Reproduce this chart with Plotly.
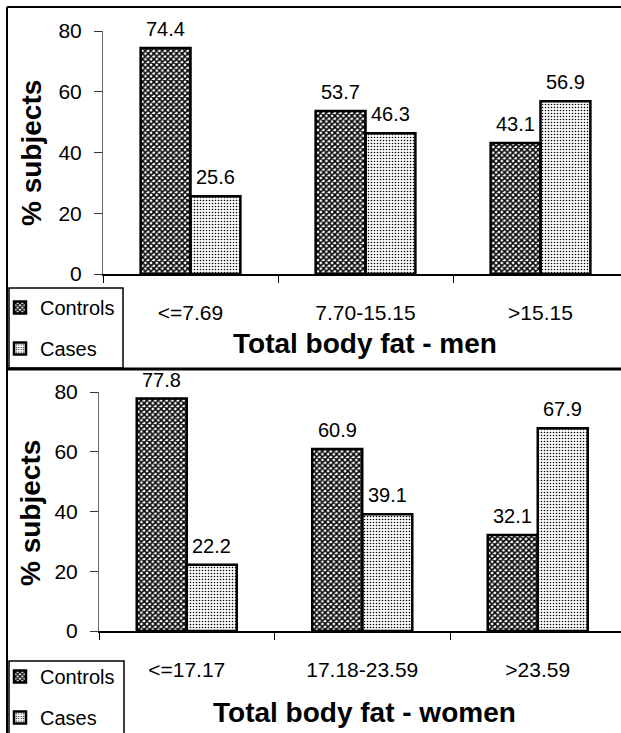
import plotly.graph_objects as go

# Percentage of subjects by total body fat tertile
men_groups = ["<=7.69", "7.70-15.15", ">15.15"]
men_controls = [74.4, 53.7, 43.1]
men_cases = [25.6, 46.3, 56.9]

women_groups = ["<=17.17", "17.18-23.59", ">23.59"]
women_controls = [77.8, 60.9, 32.1]
women_cases = [22.2, 39.1, 67.9]

y_ticks = [0, 20, 40, 60, 80]

W, H = 621, 733
FONT = "Liberation Sans, Arial, sans-serif"
BARGAP = 0.43


def px(x):
    return x / W


def py(y):
    return 1 - y / H


controls_style = dict(color="white", line=dict(color="black", width=2.5),
                      pattern=dict(shape="x", size=4, solidity=0.62,
                                   fgcolor="black", fillmode="replace"))
cases_style = dict(color="white", line=dict(color="black", width=2.5),
                   pattern=dict(shape=".", size=3, solidity=0.24,
                                fgcolor="black", fillmode="replace"))

fig = go.Figure()

panels = [
    ("x", "y", "legend", men_groups, men_controls, men_cases, "1"),
    ("x2", "y2", "legend2", women_groups, women_controls, women_cases, "2"),
]

annotations = []
half = (1 - BARGAP) / 4  # centre of each bar relative to its category

for xa, ya, leg, groups, ctrl, cases, tag in panels:
    fig.add_trace(go.Bar(x=groups, y=ctrl, name="Controls", marker=controls_style,
                         xaxis=xa, yaxis=ya, legend=leg, legendgroup="c" + tag,
                         hoverinfo="skip"))
    fig.add_trace(go.Bar(x=groups, y=cases, name="Cases", marker=cases_style,
                         xaxis=xa, yaxis=ya, legend=leg, legendgroup="k" + tag,
                         hoverinfo="skip"))
    for series, sign in ((ctrl, -1), (cases, 1)):
        for j, v in enumerate(series):
            annotations.append(dict(
                x=j + sign * half, y=v, xref=xa, yref=ya, text=f"{v:.1f}",
                showarrow=False, yanchor="bottom", xanchor="center", yshift=6,
                font=dict(family=FONT, size=20, color="black")))

# axis titles
title_font = dict(family=FONT, size=28, color="black")
annotations += [
    dict(x=px(365), y=py(343), xref="paper", yref="paper", showarrow=False,
         text="<b>Total body fat - men</b>", font=title_font,
         xanchor="center", yanchor="middle"),
    dict(x=px(364), y=py(712), xref="paper", yref="paper", showarrow=False,
         text="<b>Total body fat - women</b>", font=title_font,
         xanchor="center", yanchor="middle"),
    dict(x=px(31), y=py(153), xref="paper", yref="paper", showarrow=False,
         text="<b>% subjects</b>", font=title_font, textangle=-90,
         xanchor="center", yanchor="middle"),
    dict(x=px(30), y=py(513), xref="paper", yref="paper", showarrow=False,
         text="<b>% subjects</b>", font=title_font, textangle=-90,
         xanchor="center", yanchor="middle"),
]

tick_font = dict(family=FONT, size=21, color="black")

yaxis_common = dict(range=[0, 80], tickvals=y_ticks, showgrid=False, zeroline=False,
                    showline=True, linecolor="#666", linewidth=1,
                    ticks="outside", ticklen=8, tickcolor="#333",
                    tickfont=tick_font, ticklabelstandoff=8, fixedrange=True)
xaxis_common = dict(type="category", showgrid=False, zeroline=False,
                    showline=True, linecolor="black", linewidth=1.5,
                    ticks="outside", tickson="boundaries", ticklen=7,
                    tickcolor="black", tickfont=tick_font,
                    ticklabelstandoff=19, fixedrange=True)

line = dict(color="black", width=2)
shapes = [
    # outer frame and panel divider
    dict(type="line", xref="paper", yref="paper", x0=px(7), x1=1, y0=py(7), y1=py(7), line=line),
    dict(type="line", xref="paper", yref="paper", x0=px(7), x1=px(7), y0=py(7), y1=0, line=line),
    dict(type="line", xref="paper", yref="paper", x0=px(7), x1=1, y0=py(369), y1=py(369),
         line=dict(color="black", width=3)),
    # legend boxes
    dict(type="rect", xref="paper", yref="paper", x0=px(9), x1=px(123), y0=py(368), y1=py(288),
         line=dict(color="black", width=1.5)),
    dict(type="rect", xref="paper", yref="paper", x0=px(9), x1=px(124), y0=py(740), y1=py(661),
         line=dict(color="black", width=1.5)),
]

legend_common = dict(xanchor="left", yanchor="top", bgcolor="rgba(0,0,0,0)",
                     borderwidth=0, traceorder="grouped", tracegroupgap=12,
                     font=dict(family=FONT, size=20, color="black"),
                     itemclick=False, itemdoubleclick=False)

fig.update_layout(
    width=W, height=H,
    margin=dict(l=0, r=0, t=0, b=0, autoexpand=False),
    paper_bgcolor="white", plot_bgcolor="white",
    barmode="group", bargap=BARGAP, bargroupgap=0,
    xaxis=dict(domain=[px(103), 1], range=[-0.5, -0.5 + (W - 103) / 175],
               anchor="y", **xaxis_common),
    yaxis=dict(domain=[py(274), py(31)], anchor="x", **yaxis_common),
    xaxis2=dict(domain=[px(99), 1], range=[-0.5, -0.5 + (W - 99) / 175.5],
                anchor="y2", **xaxis_common),
    yaxis2=dict(domain=[py(631), py(392)], anchor="x2", **yaxis_common),
    legend=dict(x=0, y=py(288), **legend_common),
    legend2=dict(x=0, y=py(657), **legend_common),
    annotations=annotations,
    shapes=shapes,
    font=dict(family=FONT, color="black"),
)

fig.write_html("out.html", config={"displayModeBar": False})
